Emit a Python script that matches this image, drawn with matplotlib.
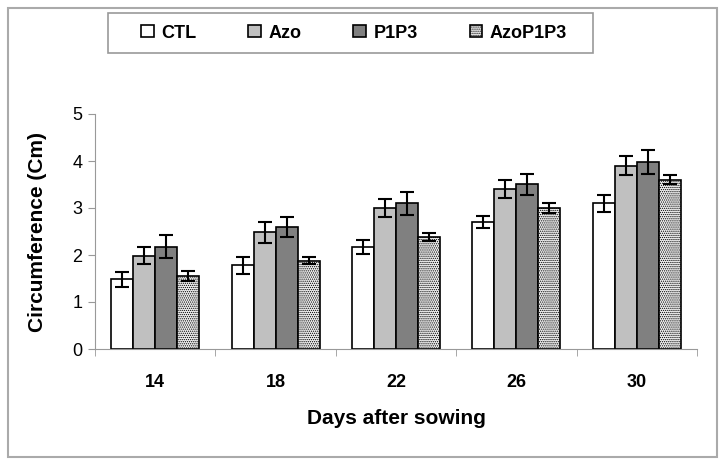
import numpy as np
import matplotlib
matplotlib.use('Agg')
import matplotlib.pyplot as plt
from matplotlib.patches import Rectangle

plt.rcParams['font.family'] = ['Liberation Sans', 'DejaVu Sans']
plt.rcParams['hatch.linewidth'] = 0.6

days = ['14', '18', '22', '26', '30']
treatments = ['CTL', 'Azo', 'P1P3', 'AzoP1P3']

# means
ctl = [1.48, 1.78, 2.17, 2.70, 3.10]
azo = [1.98, 2.48, 3.00, 3.40, 3.90]
p1p3 = [2.18, 2.60, 3.10, 3.50, 3.98]
azop1p3 = [1.55, 1.88, 2.38, 3.00, 3.60]

# error bars (+/-)
ctl_err = [0.16, 0.18, 0.15, 0.13, 0.18]
azo_err = [0.18, 0.22, 0.20, 0.19, 0.20]
p1p3_err = [0.25, 0.21, 0.25, 0.23, 0.25]
azop1p3_err = [0.10, 0.08, 0.08, 0.10, 0.10]

means = [ctl, azo, p1p3, azop1p3]
errs = [ctl_err, azo_err, p1p3_err, azop1p3_err]
faces = ['white', '#c0c0c0', '#808080', '#eeeeee']
hatches = [None, None, None, '........']

fig = plt.figure(figsize=(7.2, 4.65), dpi=100)
ax = fig.add_axes([95/720, 1-349/465, (697-95)/720, (349-114)/465])

x = np.arange(len(days))
w = 0.183
handles = []
for i in range(4):
    pos = x + (i - 1.5) * w
    b = ax.bar(pos, means[i], width=w, color=faces[i], edgecolor='black',
               linewidth=1.2, hatch=hatches[i], label=treatments[i], zorder=2)
    ax.errorbar(pos, means[i], yerr=errs[i], fmt='none', ecolor='black',
                elinewidth=1.5, capsize=5, capthick=1.5, zorder=3)
    handles.append(b)

ax.set_xlim(-0.5, 4.5)
ax.set_ylim(0, 5)
ax.set_yticks(range(6))
ax.set_xticks(x)
ax.set_xticklabels(days, fontweight='bold', fontsize=13)
ax.set_xticks(np.arange(-0.5, 5.0, 1.0), minor=True)
ax.tick_params(axis='x', which='major', length=0, pad=18)
ax.tick_params(axis='x', which='minor', length=5, color='#999999', direction='out')
ax.tick_params(axis='y', length=5, color='#999999', labelsize=13, pad=4)

for s in ['top', 'right']:
    ax.spines[s].set_visible(False)
ax.spines['left'].set_color('#999999')
ax.spines['bottom'].set_color('#999999')

ax.set_xlabel('Days after sowing', fontsize=15, fontweight='bold', labelpad=13)
ax.set_ylabel('Circumference (Cm)', fontsize=15, fontweight='bold', labelpad=18)

leg = fig.legend(handles=handles, labels=treatments, ncol=4, loc='center left',
                 bbox_to_anchor=(134/720, 1-33/465, 440/720, 0),
                 mode='expand', frameon=False,
                 handlelength=0.7, handleheight=0.7, handletextpad=0.4,
                 prop={'weight': 'bold', 'size': 13},
                 borderaxespad=0)

fig.patches.append(Rectangle((108/720, 1-53/465), 485/720, 40/465,
                             transform=fig.transFigure, fill=False,
                             edgecolor='#999999', linewidth=1.2))
fig.patches.append(Rectangle((8/720, 1-457/465), 709/720, 449/465,
                             transform=fig.transFigure, fill=False,
                             edgecolor='#aaaaaa', linewidth=1.5))

fig.savefig('out.png', dpi=100)
